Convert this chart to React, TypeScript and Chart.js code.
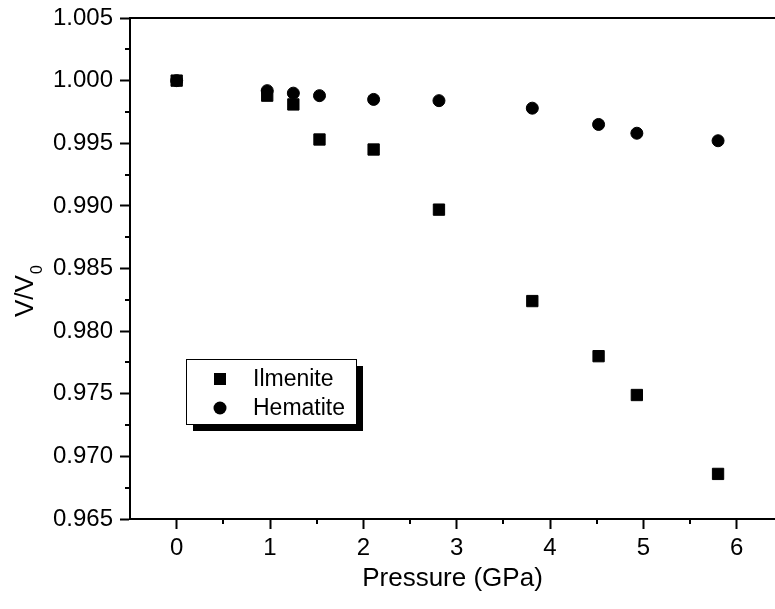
import React, { useEffect, useRef } from "react";
import { Chart, registerables } from "chart.js";

Chart.register(...registerables);

// ---- data ----
const pressureGPa = [0, 0.97, 1.25, 1.53, 2.11, 2.81, 3.81, 4.52, 4.93, 5.8];
const ilmeniteVV0 = [1.0, 0.9988, 0.9981, 0.9953, 0.9945, 0.9897, 0.9824, 0.978, 0.9749, 0.9686];
const hematiteVV0 = [1.0, 0.9992, 0.999, 0.9988, 0.9985, 0.9984, 0.9978, 0.9965, 0.9958, 0.9952];
const seriesNames = ["Ilmenite", "Hematite"];
const xTickValues = [0, 1, 2, 3, 4, 5, 6];
const xMinorTickValues = [0.5, 1.5, 2.5, 3.5, 4.5, 5.5];
const yTickValues = [0.965, 0.97, 0.975, 0.98, 0.985, 0.99, 0.995, 1.0, 1.005];
const yMinorTickValues = [0.9675, 0.9725, 0.9775, 0.9825, 0.9875, 0.9925, 0.9975, 1.0025];
const xTitle = "Pressure (GPa)";
const yTitleMain = "V/V";
const yTitleSub = "0";

const FONT = "'Liberation Sans', Arial, Helvetica, sans-serif";

const decorPlugin = {
  id: "decor",
  afterDraw(chart: any) {
    const { ctx, chartArea, scales } = chart;
    ctx.save();
    ctx.strokeStyle = "#000";
    ctx.lineWidth = 2;
    // top frame line
    ctx.beginPath();
    ctx.moveTo(chartArea.left - 1, chartArea.top);
    ctx.lineTo(chartArea.right, chartArea.top);
    ctx.stroke();
    // minor ticks
    ctx.beginPath();
    xMinorTickValues.forEach((v) => {
      const px = Math.round(scales.x.getPixelForValue(v));
      ctx.moveTo(px, chartArea.bottom);
      ctx.lineTo(px, chartArea.bottom + 5);
    });
    yMinorTickValues.forEach((v) => {
      const py = Math.round(scales.y.getPixelForValue(v));
      ctx.moveTo(chartArea.left, py);
      ctx.lineTo(chartArea.left - 5, py);
    });
    ctx.stroke();

    // y title with subscript
    ctx.save();
    ctx.translate(33, 317);
    ctx.rotate(-Math.PI / 2);
    ctx.fillStyle = "#000";
    ctx.textBaseline = "alphabetic";
    ctx.textAlign = "left";
    ctx.font = `26px ${FONT}`;
    ctx.fillText(yTitleMain, 0, 0);
    const w = ctx.measureText(yTitleMain).width;
    ctx.font = `16px ${FONT}`;
    ctx.fillText(yTitleSub, w + 1, 9);
    ctx.restore();

    // legend
    const bx = 186, by = 359, bw = 170, bh = 65, sh = 7;
    ctx.fillStyle = "#000";
    ctx.fillRect(bx + sh, by + sh, bw, bh);
    ctx.fillStyle = "#fff";
    ctx.fillRect(bx, by, bw, bh);
    ctx.lineWidth = 1;
    ctx.strokeStyle = "#000";
    ctx.strokeRect(bx + 0.5, by + 0.5, bw, bh);
    const rows = [379, 408];
    chart.data.datasets.forEach((ds: any, i: number) => {
      const cy = rows[i];
      const cx = 220;
      ctx.fillStyle = "#000";
      if (ds.pointStyle === "rect") {
        ctx.fillRect(cx - 6, cy - 6, 12, 12);
      } else {
        ctx.beginPath();
        ctx.arc(cx, cy, 6.5, 0, Math.PI * 2);
        ctx.fill();
      }
      ctx.font = `23px ${FONT}`;
      ctx.textBaseline = "middle";
      ctx.textAlign = "left";
      ctx.fillText(ds.label, 253, cy + 1);
    });
    ctx.restore();
  },
};

export default function App() {
  const canvasRef = useRef<HTMLCanvasElement | null>(null);

  useEffect(() => {
    if (!canvasRef.current) return;
    const chart = new Chart(canvasRef.current, {
      type: "scatter",
      data: {
        datasets: [
          {
            label: seriesNames[0],
            data: pressureGPa.map((x, i) => ({ x, y: ilmeniteVV0[i] })),
            pointStyle: "rect",
            pointRadius: 8,
            pointBorderWidth: 1,
            backgroundColor: "#000",
            borderColor: "#000",
            showLine: false,
          },
          {
            label: seriesNames[1],
            data: pressureGPa.map((x, i) => ({ x, y: hematiteVV0[i] })),
            pointStyle: "circle",
            pointRadius: 6,
            pointBorderWidth: 1,
            backgroundColor: "#000",
            borderColor: "#000",
            showLine: false,
          },
        ],
      },
      options: {
        animation: false,
        responsive: false,
        devicePixelRatio: 1,
        layout: { autoPadding: false, padding: { top: 18, right: 0, left: 0, bottom: 0 } },
        plugins: {
          legend: { display: false },
          tooltip: { enabled: false },
        },
        scales: {
          x: {
            type: "linear",
            min: -0.5,
            max: 6.41,
            afterBuildTicks: (scale: any) => {
              scale.ticks = xTickValues.map((v) => ({ value: v }));
            },
            afterFit: (scale: any) => {
              scale.height = 90;
              scale.paddingLeft = 0;
              scale.paddingRight = 0;
            },
            grid: {
              drawOnChartArea: false,
              drawTicks: true,
              tickLength: 10,
              tickWidth: 2,
              tickColor: "#000",
            },
            border: { display: true, color: "#000", width: 2 },
            ticks: {
              color: "#000",
              font: { family: FONT, size: 24 },
              padding: 5,
              maxRotation: 0,
              callback: (v: any) => String(v),
            },
            title: {
              display: true,
              text: xTitle,
              color: "#000",
              font: { family: FONT, size: 26 },
              padding: { top: 0, bottom: 15 },
            },
          },
          y: {
            type: "linear",
            min: 0.965,
            max: 1.005,
            afterBuildTicks: (scale: any) => {
              scale.ticks = yTickValues.map((v) => ({ value: v }));
            },
            afterFit: (scale: any) => {
              scale.width = 130;
              scale.paddingTop = 0;
              scale.paddingBottom = 0;
            },
            grid: {
              drawOnChartArea: false,
              drawTicks: true,
              tickLength: 10,
              tickWidth: 2,
              tickColor: "#000",
            },
            border: { display: true, color: "#000", width: 2 },
            ticks: {
              color: "#000",
              font: { family: FONT, size: 24 },
              padding: 7,
              callback: (v: any) => Number(v).toFixed(3),
            },
            title: { display: false },
          },
        },
      },
      plugins: [decorPlugin],
    });
    return () => chart.destroy();
  }, []);

  return (
    <div style={{ position: "absolute", left: 0, top: 0, width: 775, height: 609, background: "#fff" }}>
      <canvas ref={canvasRef} width={775} height={609} style={{ width: 775, height: 609, display: "block" }} />
    </div>
  );
}
